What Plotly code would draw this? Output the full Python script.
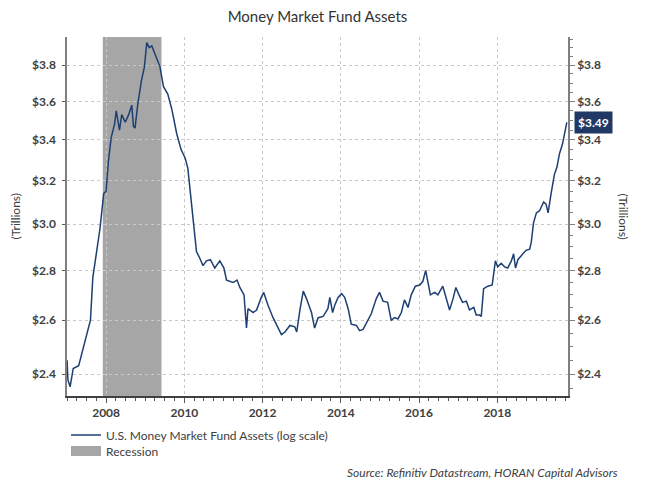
import numpy as np
import plotly.graph_objects as go

# ---------------- data ----------------
dates = [
    "2007-01-02", "2007-01-09", "2007-01-30", "2007-02-28", "2007-04-20", "2007-05-18",
    "2007-07-05", "2007-08-08", "2007-08-30", "2007-09-20", "2007-10-15", "2007-11-05",
    "2007-12-10", "2008-01-01", "2008-01-22", "2008-02-17", "2008-03-20", "2008-04-05",
    "2008-05-05", "2008-05-26", "2008-06-28", "2008-07-30", "2008-08-28", "2008-09-12",
    "2008-09-27", "2008-10-22", "2008-11-25", "2008-12-24", "2009-01-15", "2009-02-06",
    "2009-03-03", "2009-04-05", "2009-05-18", "2009-06-20", "2009-07-30", "2009-09-05",
    "2009-10-22", "2009-12-02", "2010-01-08", "2010-02-02", "2010-03-08", "2010-03-25",
    "2010-04-24", "2010-05-26", "2010-06-24", "2010-07-26", "2010-09-01", "2010-10-12",
    "2010-11-28", "2011-01-05", "2011-01-30", "2011-04-01", "2011-05-08", "2011-06-03",
    "2011-07-12", "2011-08-04", "2011-08-18", "2011-10-05", "2011-11-06", "2011-12-20",
    "2012-01-12", "2012-02-20", "2012-04-08", "2012-05-26", "2012-06-25", "2012-07-28",
    "2012-09-13", "2012-10-28", "2012-11-15", "2012-12-15", "2013-01-15", "2013-02-14",
    "2013-04-02", "2013-05-01", "2013-06-03", "2013-07-20", "2013-09-02", "2013-09-20",
    "2013-10-16", "2013-11-06", "2013-12-06", "2014-01-08", "2014-02-06", "2014-03-10",
    "2014-04-08", "2014-05-26", "2014-06-25", "2014-07-28", "2014-08-26", "2014-10-12",
    "2014-11-28", "2014-12-28", "2015-01-30", "2015-03-14", "2015-04-16", "2015-05-18",
    "2015-06-18", "2015-07-20", "2015-08-18", "2015-09-20", "2015-10-20", "2015-11-28",
    "2016-01-08", "2016-02-06", "2016-03-03", "2016-03-25", "2016-04-16", "2016-05-26",
    "2016-06-25", "2016-08-10", "2016-09-12", "2016-10-12", "2016-11-14", "2016-12-10",
    "2017-01-08", "2017-02-10", "2017-03-18", "2017-04-16", "2017-05-26", "2017-06-18",
    "2017-07-20", "2017-08-04", "2017-08-26", "2017-10-05", "2017-11-14", "2017-12-14",
    "2018-01-05", "2018-02-06", "2018-03-10", "2018-04-08", "2018-05-12", "2018-06-02",
    "2018-06-20", "2018-07-12", "2018-08-28", "2018-09-26", "2018-10-30", "2018-11-14",
    "2018-12-05", "2019-01-01", "2019-01-30", "2019-03-10", "2019-04-01", "2019-04-20",
    "2019-05-20", "2019-06-18", "2019-07-12", "2019-08-04", "2019-09-02", "2019-10-12",
]
assets_trillions = [
    2.45, 2.38, 2.355, 2.42, 2.43, 2.47,
    2.55, 2.60, 2.77, 2.83, 2.92, 2.98,
    3.14, 3.15, 3.29, 3.41, 3.48, 3.55,
    3.45, 3.53, 3.49, 3.53, 3.58, 3.47,
    3.46, 3.58, 3.71, 3.79, 3.93, 3.90,
    3.91, 3.86, 3.79, 3.68, 3.64, 3.56,
    3.43, 3.35, 3.31, 3.26, 3.10, 3.00,
    2.88, 2.85, 2.82, 2.84, 2.845, 2.81,
    2.84, 2.81, 2.76, 2.75, 2.76, 2.73,
    2.70, 2.57, 2.645, 2.63, 2.64, 2.69,
    2.71, 2.66, 2.61, 2.57, 2.545, 2.555,
    2.58, 2.575, 2.555, 2.64, 2.715, 2.685,
    2.63, 2.57, 2.61, 2.615, 2.645, 2.69,
    2.63, 2.66, 2.69, 2.705, 2.69, 2.645,
    2.585, 2.58, 2.56, 2.565, 2.59, 2.625,
    2.685, 2.71, 2.675, 2.67, 2.60, 2.61,
    2.605, 2.63, 2.68, 2.65, 2.70, 2.735,
    2.74, 2.755, 2.80, 2.75, 2.70, 2.71,
    2.70, 2.735, 2.685, 2.64, 2.685, 2.73,
    2.70, 2.67, 2.675, 2.64, 2.65, 2.62,
    2.62, 2.615, 2.725, 2.735, 2.74, 2.84,
    2.815, 2.83, 2.815, 2.81, 2.84, 2.87,
    2.81, 2.845, 2.87, 2.885, 2.89, 2.92,
    3.005, 3.05, 3.06, 3.10, 3.09, 3.05,
    3.145, 3.23, 3.265, 3.33, 3.38, 3.49,
]
recession_start = "2007-12-01"
recession_end = "2009-06-01"
y_ticks = [2.4, 2.6, 2.8, 3.0, 3.2, 3.4, 3.6, 3.8]
y_tick_labels = ["$2.4", "$2.6", "$2.8", "$3.0", "$3.2", "$3.4", "$3.6", "$3.8"]
y_minor_ticks = [2.35, 2.45, 2.5, 2.55, 2.65, 2.7, 2.75, 2.85, 2.9, 2.95, 3.05, 3.1, 3.15,
                 3.25, 3.3, 3.35, 3.45, 3.5, 3.55, 3.65, 3.7, 3.75, 3.85, 3.9, 3.95]
last_value_label = "$3.49"
series_name = "U.S. Money Market Fund Assets (log scale)"
recession_name = "Recession"
title_text = "Money Market Fund Assets"
source_text = "Source: Refinitiv Datastream, HORAN Capital Advisors"

# ---------------- style ----------------
NAVY = "#1d3f72"
GREY_FILL = "#a6a6a6"
TXT = "#404040"
FONT = "Lato"
y_range = [np.log10(2.323), np.log10(3.962)]
x_range = ["2007-01-01", "2019-10-23"]

fig = go.Figure()
fig.add_trace(go.Scatter(
    x=dates, y=assets_trillions, mode="lines", name=series_name,
    line=dict(color=NAVY, width=1.5), legend="legend", hoverinfo="x+y",
))
# legend entry for the recession band (band itself is a shape)
fig.add_trace(go.Scatter(
    x=[None], y=[None], mode="lines", name=recession_name, legend="legend2",
    line=dict(color=GREY_FILL, width=10), hoverinfo="skip",
))
# same series on the right-hand axis (invisible), so that axis is drawn
fig.add_trace(go.Scatter(
    x=dates, y=assets_trillions, mode="lines", yaxis="y2", showlegend=False,
    line=dict(color="rgba(0,0,0,0)", width=0), hoverinfo="skip",
))

fig.add_shape(type="rect", xref="x", yref="paper", x0=recession_start, x1=recession_end,
              y0=0, y1=1, fillcolor=GREY_FILL, line=dict(width=0), layer="below")

tickfont = dict(family=FONT, size=12, color=TXT, weight="bold")
legfont = dict(family=FONT, size=12, color=TXT)

# the page body adds an 8px offset; the figure is sized so the page is 657x479
fig.update_layout(
    width=649, height=471,
    margin=dict(l=59, r=89, t=29, b=83, autoexpand=False),
    paper_bgcolor="white", plot_bgcolor="white",
    font=dict(family=FONT, color=TXT),
    title=dict(text=title_text, x=0.5, xref="paper", xanchor="center", y=0.981, yanchor="middle",
               font=dict(family=FONT, size=15, color="#333333")),
    showlegend=True,
    legend=dict(x=-0.002, y=-0.1086, xanchor="left", yanchor="middle",
                font=legfont, bgcolor="rgba(0,0,0,0)", itemwidth=30),
    legend2=dict(x=-0.002, y=-0.153, xanchor="left", yanchor="middle",
                 font=legfont, bgcolor="rgba(0,0,0,0)", itemwidth=30),
    xaxis=dict(
        type="date", range=x_range, tickformat="%Y", dtick="M24", tick0="2008-01-01",
        showgrid=True, gridcolor="#c8c8c8", griddash="dot", gridwidth=1,
        ticks="outside", ticklen=5, tickcolor="#595959",
        showline=True, linecolor="#404040", linewidth=1.5,
        tickfont=tickfont, zeroline=False,
        minor=dict(dtick="M3", tick0="2008-01-01", ticks="outside", ticklen=3,
                   tickcolor="#595959", showgrid=False),
    ),
    yaxis=dict(
        type="log", range=y_range, tickvals=y_ticks, ticktext=y_tick_labels,
        showgrid=True, gridcolor="#c8c8c8", griddash="dot", gridwidth=1,
        ticks="outside", ticklen=3, tickcolor="#595959", ticklabelstandoff=4,
        showline=True, linecolor="#7f7f7f", linewidth=1.5,
        tickfont=tickfont, zeroline=False,
    ),
    yaxis2=dict(
        type="log", range=y_range, overlaying="y", side="right",
        tickvals=y_ticks, ticktext=y_tick_labels, showgrid=False,
        ticks="outside", ticklen=5, tickcolor="#7f7f7f",
        showline=True, linecolor="#7f7f7f", linewidth=1.5,
        tickfont=tickfont, zeroline=False,
        minor=dict(tickvals=y_minor_ticks, ticks="outside", ticklen=3, tickcolor="#7f7f7f",
                   showgrid=False),
    ),
)

# axis titles
fig.add_annotation(text="(Trillions)", xref="paper", yref="paper", x=-0.102, y=0.5,
                   textangle=-90, showarrow=False, xanchor="center", yanchor="middle",
                   font=dict(family=FONT, size=12, color=TXT))
fig.add_annotation(text="(Trillions)", xref="paper", yref="paper", x=1.11, y=0.5,
                   textangle=90, showarrow=False, xanchor="center", yanchor="middle",
                   font=dict(family=FONT, size=12, color=TXT))

# last value flag
fig.add_annotation(text="<b>" + last_value_label + "</b>", xref="paper", yref="y",
                   x=1, y=np.log10(assets_trillions[-1]), xanchor="left", yanchor="middle",
                   xshift=6, showarrow=False, bgcolor="#1f3864", borderpad=3,
                   font=dict(family=FONT, size=12, color="white"))

# source
fig.add_annotation(text="<i>" + source_text + "</i>", xref="paper", yref="paper",
                   x=1.104, y=-0.212, xanchor="right", yanchor="middle", showarrow=False,
                   font=dict(family=FONT, size=12, color=TXT))

fig.write_html("out.html")
